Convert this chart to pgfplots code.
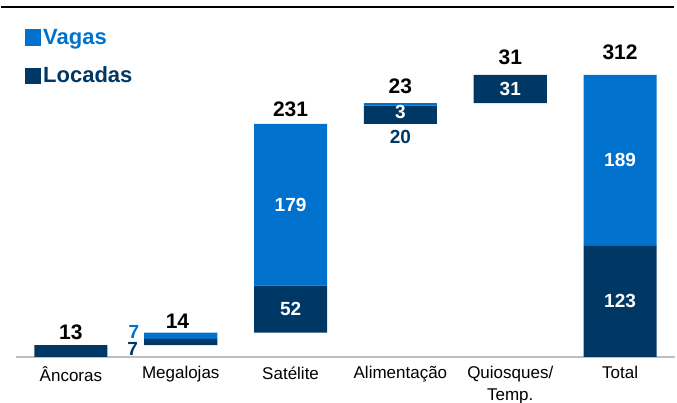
\documentclass[border=0pt]{standalone}
\usepackage{fontspec}
\setmainfont{Liberation Sans}
\usepackage{pgfplots}
\pgfplotsset{compat=1.18}
\definecolor{vag}{RGB}{0,114,206}
\definecolor{loc}{RGB}{0,56,101}
\begin{document}
\begin{tikzpicture}
\begin{axis}[
  at={(0pt,0pt)}, anchor=south west,
  scale only axis, width=659pt, height=282pt,
  xmin=-0.5, xmax=5.5, ymin=0, ymax=312,
  ybar stacked, bar width=0.665,
  axis y line=none,
  axis x line*=bottom,
  axis line style={draw=black!25, line width=1.5pt},
  xtick={0,1,2,3,4,5},
  xticklabels={Âncoras, Megalojas, Satélite, Alimentação, {Quiosques/\\Temp.}, Total},
  major tick length=0pt,
  xticklabel style={font=\fontsize{17}{22}\selectfont, align=center, yshift=-6pt},
  clip=false,
]
\addplot[draw=none, fill=none, forget plot] coordinates {(0,0) (1,13) (2,27) (3,258) (4,281) (5,0)};
\addplot[fill=loc, draw=none] coordinates {(0,13) (1,7) (2,52) (3,20) (4,31) (5,123)};
\addplot[fill=vag, draw=none] coordinates {(0,0) (1,7) (2,179) (3,3) (4,0) (5,189)};
% label anchors
\coordinate (t0) at (axis cs:0,27.1);
\coordinate (t1) at (axis cs:0.97,39.3);
\coordinate (t2) at (axis cs:2,273.8);
\coordinate (t3) at (axis cs:3,299.8);
\coordinate (t4) at (axis cs:4,331.4);
\coordinate (t5) at (axis cs:5,337.5);
\coordinate (v1) at (axis cs:0.574,28);
\coordinate (l1) at (axis cs:0.562,9.1);
\coordinate (v2) at (axis cs:2,168.5);
\coordinate (l2) at (axis cs:2,53);
\coordinate (v3) at (axis cs:3,271);
\coordinate (l3) at (axis cs:3,243.4);
\coordinate (l4) at (axis cs:4,296.5);
\coordinate (v5) at (axis cs:5,217.5);
\coordinate (l5) at (axis cs:5,61.5);
\end{axis}
\tikzset{tot/.style={font=\fontsize{21}{21}\selectfont\bfseries, text=black, inner sep=0pt},
         inn/.style={font=\fontsize{19}{19}\selectfont\bfseries, text=white, inner sep=0pt}}
\node[tot] at (t0) {13};
\node[tot] at (t1) {14};
\node[tot] at (t2) {231};
\node[tot] at (t3) {23};
\node[tot] at (t4) {31};
\node[tot] at (t5) {312};
\node[inn, text=vag] at (v1) {7};
\node[inn, text=loc] at (l1) {7};
\node[inn] at (v2) {179};
\node[inn] at (l2) {52};
\node[inn] at (v3) {3};
\node[inn, text=loc] at (l3) {20};
\node[inn] at (l4) {31};
\node[inn] at (v5) {189};
\node[inn] at (l5) {123};
% top rule
\draw[line width=2.5pt] (-15pt,350pt) -- (658pt,350pt);
% legend
\fill[vag] (9pt,311pt) rectangle (25pt,328pt);
\node[anchor=base west, inner sep=0pt, text=vag, font=\fontsize{22}{22}\selectfont\bfseries] at (27pt,312pt) {Vagas};
\fill[loc] (9pt,273pt) rectangle (25pt,289pt);
\node[anchor=base west, inner sep=0pt, text=loc, font=\fontsize{22}{22}\selectfont\bfseries] at (27pt,274pt) {Locadas};
\pgfresetboundingbox
\useasboundingbox (-16pt,-46pt) rectangle (661pt,357pt);
\end{tikzpicture}
\end{document}
